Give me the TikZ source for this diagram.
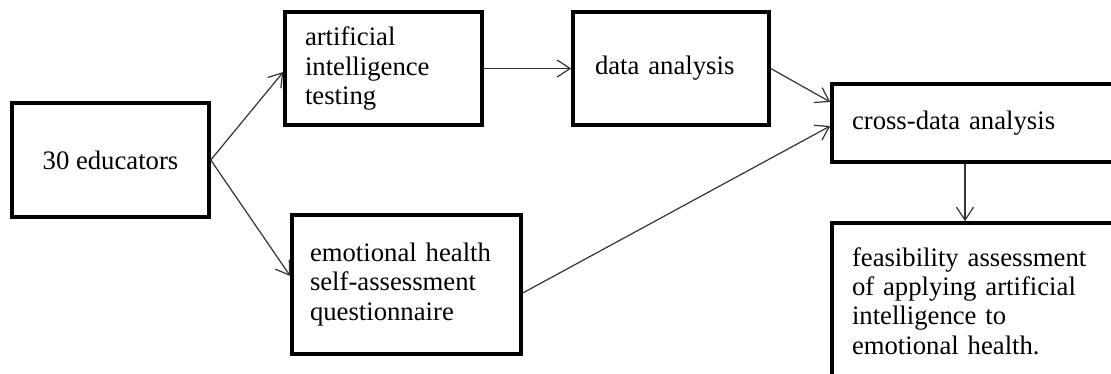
\documentclass[tikz,border=0pt]{standalone}
\usepackage{fontspec}
\setmainfont{Liberation Serif}
\usetikzlibrary{arrows.meta,calc}
\begin{document}
\begin{tikzpicture}[x=1pt,y=-1pt,
  box/.style={draw=black, line width=3.5pt, inner sep=0pt, align=left,
    font=\fontsize{26.7}{29.3}\selectfont},
  conn/.style={draw=black!80, line width=1.2pt,
    -{Straight Barb[length=13pt,width=17pt,line width=1.2pt]}}]
\useasboundingbox (0,0) rectangle (1111,374);
\begin{scope}
\clip (0,0) rectangle (1111,374);
\node[box, align=center, minimum width=197pt, minimum height=114pt] (b1) at (110.5,160) {30 educators};
\node[box, text width=157pt, minimum width=197pt, minimum height=113pt] (b2) at (383.5,68.5) {artificial\\intelligence\\testing};
\node[box, text width=152pt, minimum width=196pt, minimum height=113pt] (b3) at (671,68.5) {data analysis};
\node[box, text width=193pt, minimum width=229pt, minimum height=139pt] (b4) at (406.5,284.5) {emotional health\\self-assessment\\questionnaire};
\node[box, text width=258pt, minimum width=298pt, minimum height=78pt] (b5) at (981,123) {cross-data analysis};
\node[box, text width=258pt, minimum width=298pt, minimum height=156pt] (b6) at (981,301) {feasibility assessment\\of applying artificial\\intelligence to\\emotional health.};
\end{scope}
\draw[conn] (b1.east) -- ($(b2.west)+(0,3.5)$);
\draw[conn] (b1.east) -- ($(b4.west)+(0,-8.5)$);
\draw[conn] (b2.east) -- (b3.west);
\draw[conn] (b3.east) -- ($(b5.west)+(0,-21)$);
\draw[conn] ($(b4.east)+(0,8.5)$) -- ($(b5.west)+(0,3)$);
\draw[conn] ($(b5.south)+(-16,0)$) -- ($(b6.north)+(-16,0)$);
\end{tikzpicture}
\end{document}
